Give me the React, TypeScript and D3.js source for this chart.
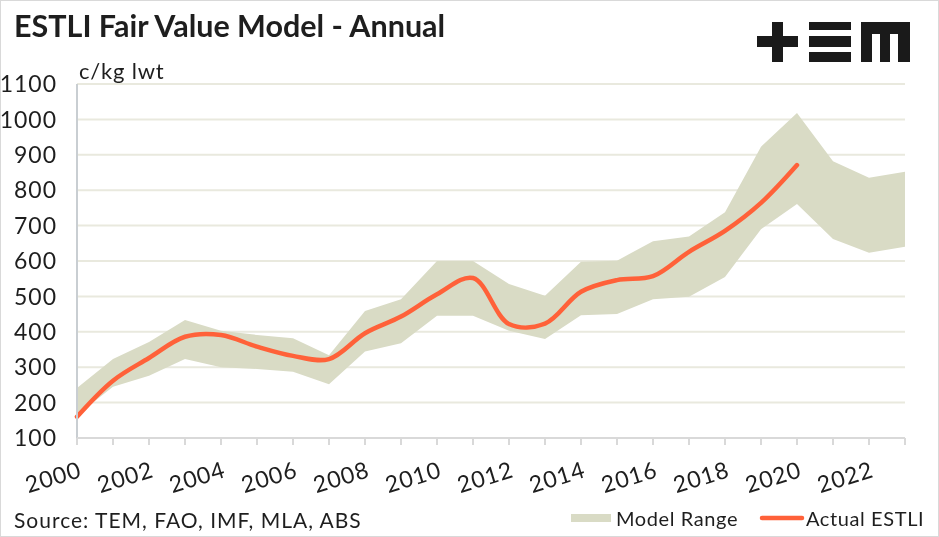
import React from 'react';
import * as d3 from 'd3';

// years and values
const years = d3.range(2000, 2024);
const bandUpper = [241, 323, 371, 433, 403, 391, 382, 334, 459, 492, 600, 600, 535, 502, 598, 601, 656, 669, 738, 923, 1018, 882, 835, 852];
const bandLower = [165, 245, 276, 323, 300, 295, 287, 252, 344, 368, 445, 445, 403, 380, 447, 450, 492, 499, 555, 690, 761, 662, 623, 640];
const actualYears = d3.range(2000, 2021);
const actual = [160, 262, 326, 386, 391, 358, 332, 323, 396, 443, 506, 552, 422, 423, 513, 546, 557, 626, 685, 764, 871];
const yTicks = [100, 200, 300, 400, 500, 600, 700, 800, 900, 1000, 1100];
const xLabelYears = [2000, 2002, 2004, 2006, 2008, 2010, 2012, 2014, 2016, 2018, 2020, 2022];

const W = 939, H = 537;
const FONT = 'Lato, "Open Sans", sans-serif';
const BAND = '#d9dbc5';
const ORANGE = '#ff6139';
const INK = '#1e1e1e';

const App = () => {
  const x = d3.scaleLinear().domain([2000, 2023]).range([77, 905]);
  const y = d3.scaleLinear().domain([100, 1100]).range([438, 84]);

  const area = d3.area<number>()
    .x((_, i) => x(years[i]))
    .y0((_, i) => y(bandLower[i]))
    .y1(d => y(d));

  const line = d3.line<number>()
    .x((_, i) => x(actualYears[i]))
    .y(d => y(d))
    .curve(d3.curveCatmullRom.alpha(0.5));

  return (
    <svg width={W} height={H} style={{ position: 'fixed', left: 0, top: 0 }} fontFamily={FONT}>
      <rect x={0.5} y={0.5} width={W - 1} height={H - 1} fill="#fff" stroke="#d9d9d9" />
      <text x={14} y={37} fontSize={30.5} fontWeight={700} fill={INK}>ESTLI Fair Value Model - Annual</text>

      {/* logo */}
      <g fill="#1a1a1a">
        <rect x={757} y={36} width={41} height={11} />
        <rect x={772} y={22} width={11} height={40} />
        <rect x={809} y={22} width={42} height={8} />
        <rect x={809} y={36} width={42} height={11} />
        <rect x={809} y={52} width={42} height={10} />
        <rect x={861} y={22} width={49} height={12} />
        <rect x={861} y={22} width={11} height={40} />
        <rect x={880} y={22} width={10} height={40} />
        <rect x={898} y={22} width={12} height={40} />
      </g>

      <text x={79} y={79} fontSize={22} letterSpacing={0.8} fill={INK}>c/kg lwt</text>

      {/* grid */}
      {yTicks.filter(t => t > 100).map(t => (
        <line key={t} x1={77} x2={905} y1={y(t)} y2={y(t)} stroke="#e9e9de" strokeWidth={2} />
      ))}

      <path d={area(bandUpper) || ''} fill={BAND} />
      <path d={line(actual) || ''} fill="none" stroke={ORANGE} strokeWidth={4.5} strokeLinecap="round" />

      {/* axes */}
      <line x1={77} x2={77} y1={84} y2={438} stroke="#c9ced2" strokeWidth={2} />
      <line x1={77} x2={905} y1={438} y2={438} stroke="#d9d9d9" strokeWidth={2} />
      {years.map(yr => (
        <line key={yr} x1={x(yr)} x2={x(yr)} y1={438} y2={445} stroke="#d9d9d9" strokeWidth={2} />
      ))}
      {yTicks.map(t => (
        <text key={t} x={57} y={y(t)} dy="0.36em" textAnchor="end" fontSize={23} letterSpacing={1} fill={INK}>{t}</text>
      ))}
      {xLabelYears.map(yr => (
        <text key={yr} transform={`translate(${x(yr) + 1},${460}) rotate(-17)`} textAnchor="end" dy="0.75em" fontSize={23} letterSpacing={1} fill={INK}>{yr}</text>
      ))}

      <text x={14} y={528} fontSize={21} letterSpacing={1} fill={INK}>Source: TEM, FAO, IMF, MLA, ABS</text>

      {/* legend */}
      <rect x={571} y={514} width={40} height={8} fill={BAND} />
      <text x={616} y={526} fontSize={20} letterSpacing={0.6} fill={INK}>Model Range</text>
      <line x1={762} x2={802} y1={518} y2={518} stroke={ORANGE} strokeWidth={4.5} strokeLinecap="round" />
      <text x={806} y={526} fontSize={20} letterSpacing={0.6} fill={INK}>Actual ESTLI</text>
    </svg>
  );
};

export default App;
